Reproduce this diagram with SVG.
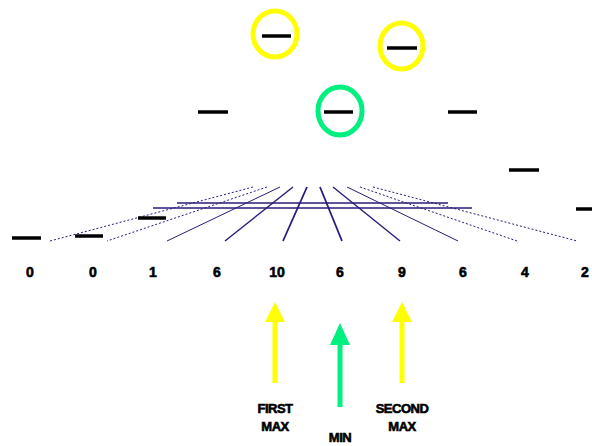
<svg xmlns="http://www.w3.org/2000/svg" width="592" height="446" viewBox="0 0 592 446">
<defs>
<style>
.bar{stroke:#000;stroke-width:3.5;}
.g{stroke:#2a1a7a;fill:none;}
.d{stroke-dasharray:2 2;stroke-width:1;}
.num{font-family:"Liberation Sans",Arial,sans-serif;font-weight:bold;font-size:14px;text-anchor:middle;fill:#000;stroke:#000;stroke-width:0.6;}
.lbl{font-family:"Liberation Sans",Arial,sans-serif;font-weight:bold;font-size:13px;text-anchor:middle;fill:#000;stroke:#000;stroke-width:0.6;letter-spacing:-0.5px;}
.ring{fill:none;stroke-width:5;}
</style>
</defs>
<g id="grid">
<line class="g d" x1="253" y1="187" x2="50" y2="241"/>
<line class="g d" x1="267" y1="187" x2="107" y2="241"/>
<line class="g" stroke-width="1" x1="280" y1="187" x2="167" y2="241"/>
<line class="g" stroke-width="1.4" x1="293" y1="187" x2="225" y2="241"/>
<line class="g" stroke-width="1.8" x1="307" y1="187" x2="283" y2="241"/>
<line class="g" stroke-width="1.8" x1="320" y1="187" x2="342" y2="241"/>
<line class="g" stroke-width="1.4" x1="333" y1="187" x2="400" y2="241"/>
<line class="g" stroke-width="1" x1="347" y1="187" x2="458" y2="241"/>
<line class="g d" x1="360" y1="187" x2="517" y2="241"/>
<line class="g d" x1="373" y1="187" x2="577" y2="241"/>
<line class="g" stroke-width="1.3" x1="177" y1="203" x2="448" y2="203"/>
<line class="g" stroke-width="1.3" x1="153" y1="208" x2="472" y2="208"/>
</g>
<g id="bars">
<line class="bar" x1="12" y1="238" x2="41" y2="238" stroke-width="2.5"/>
<line class="bar" x1="75" y1="236" x2="103" y2="236" stroke-width="2.5"/>
<line class="bar" x1="138" y1="218" x2="166" y2="218" stroke-width="2.5"/>
<line class="bar" x1="198" y1="112" x2="228" y2="112"/>
<line class="bar" x1="262" y1="36" x2="291" y2="36"/>
<line class="bar" x1="324" y1="112" x2="353" y2="112"/>
<line class="bar" x1="387" y1="48" x2="417" y2="48" stroke-width="2.5"/>
<line class="bar" x1="448" y1="112" x2="477" y2="112"/>
<line class="bar" x1="509" y1="170" x2="539" y2="170"/>
<line class="bar" x1="576" y1="209" x2="592" y2="209" stroke-width="3"/>
</g>
<g id="circles">
<ellipse id="first-max-ring" class="ring" stroke="#ffff00" cx="275" cy="34" rx="22" ry="23"/>
<ellipse id="second-max-ring" class="ring" stroke="#ffff00" cx="401.5" cy="46" rx="21.5" ry="23"/>
<ellipse id="min-ring" class="ring" stroke="#00f080" cx="340" cy="111" rx="22" ry="24"/>
</g>
<g id="numbers">
<text class="num" x="30" y="277">0</text>
<text class="num" x="93" y="277">0</text>
<text class="num" x="153" y="277">1</text>
<text class="num" x="217" y="277">6</text>
<text class="num" x="277" y="277">10</text>
<text class="num" x="340" y="277">6</text>
<text class="num" x="402" y="277">9</text>
<text class="num" x="463" y="277">6</text>
<text class="num" x="525" y="277">4</text>
<text class="num" x="585" y="277">2</text>
</g>
<g id="arrows">
<g id="first-max">
<line x1="275" y1="320" x2="275" y2="383" stroke="#ffff00" stroke-width="5"/>
<polygon points="275,302 265,322 285,322" fill="#ffff00"/>
<text class="lbl" x="275" y="413">FIRST</text>
<text class="lbl" x="275" y="431">MAX</text>
</g>
<g id="min">
<line x1="340" y1="343" x2="340" y2="407" stroke="#00f080" stroke-width="5"/>
<polygon points="340,323 330,345 350,345" fill="#00f080"/>
<text class="lbl" x="340" y="442">MIN</text>
</g>
<g id="second-max">
<line x1="402" y1="320" x2="402" y2="383" stroke="#ffff00" stroke-width="5"/>
<polygon points="402,302 392,322 412,322" fill="#ffff00"/>
<text class="lbl" x="402" y="413">SECOND</text>
<text class="lbl" x="402" y="431">MAX</text>
</g>
</g>
</svg>
